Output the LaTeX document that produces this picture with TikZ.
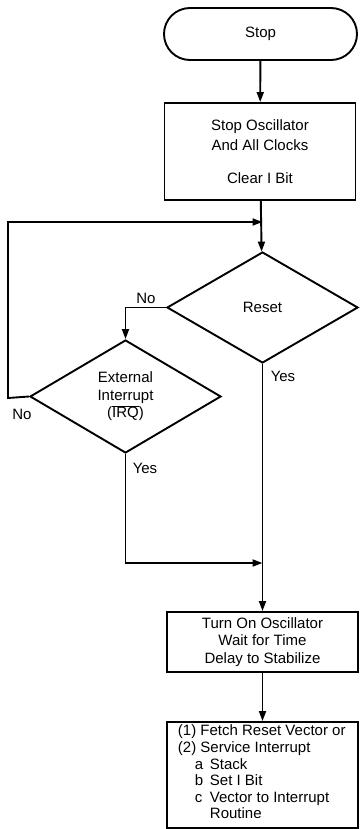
\documentclass[tikz,border=0pt]{standalone}
\usepackage{fontspec}
\setmainfont{Liberation Sans}
\usetikzlibrary{shapes.geometric,arrows.meta}
\begin{document}
\begin{tikzpicture}[x=1bp,y=-1bp,
  line width=1.9bp,
  >={Triangle[length=10bp,width=7bp]},
  every node/.style={font=\fontsize{15bp}{18bp}\selectfont},
  term/.style={draw,rectangle,rounded corners=26bp,minimum width=193bp,minimum height=52bp,inner sep=0pt},
  procbox/.style={draw,rectangle,minimum width=191bp,inner sep=0pt,align=center},
  decision/.style={draw,diamond,inner sep=0pt,align=center},
  lbl/.style={inner sep=0pt}]
\useasboundingbox (0,0) rectangle (360,829);
\node[term] (stop) at (260.5,34) {Stop};
\node[procbox,minimum height=97bp,font=\fontsize{15bp}{20bp}\selectfont] (box1) at (260,151.5) {Stop Oscillator\\And All Clocks\\[13bp]Clear I Bit};
\node[decision,minimum width=191bp,minimum height=111bp] (reset) at (262.5,307.5) {Reset};
\node[decision,minimum width=191bp,minimum height=113bp,font=\fontsize{15bp}{17.5bp}\selectfont] (irq) at (125.5,396.5) {External\\Interrupt\\(\ensuremath{\overline{\mbox{IRQ}}})};
\node[procbox,minimum height=60bp,font=\fontsize{15bp}{17.5bp}\selectfont] (box2) at (262.5,642) {Turn On Oscillator\\Wait for Time\\Delay to Stabilize};
\node[draw,rectangle,minimum width=191bp,minimum height=106bp,inner sep=0pt] (box3) at (262.5,775) {};
\node[lbl,anchor=north west,align=left,font=\fontsize{15bp}{16.6bp}\selectfont] (box3txt) at (177,724) {(1) Fetch Reset Vector or\\(2) Service Interrupt\\\hspace*{17bp}\makebox[15bp][l]{a}Stack\\\hspace*{17bp}\makebox[15bp][l]{b}Set I Bit\\\hspace*{17bp}\makebox[15bp][l]{c}Vector to Interrupt\\\hspace*{32bp}Routine};
\coordinate (j1) at (262.5,222);
\coordinate (j2) at (262.5,563);
\coordinate (lft) at (8,398);
\node[lbl] (no1) at (146,298) {No};
\node[lbl] (no2) at (22,414) {No};
\node[lbl] (yes1) at (283,376) {Yes};
\node[lbl] (yes2) at (145,468) {Yes};
\draw[->] (stop) -- (box1);
\draw[->] (box1) -- (reset);
\draw[->] (reset.west) -| (irq.north);
\draw[->] (irq.west) -- (lft) |- (j1);
\draw[->] (reset.south) -- (box2.north);
\draw[->] (irq.south) |- (j2);
\draw[->] (box2) -- (box3);
\end{tikzpicture}
\end{document}
